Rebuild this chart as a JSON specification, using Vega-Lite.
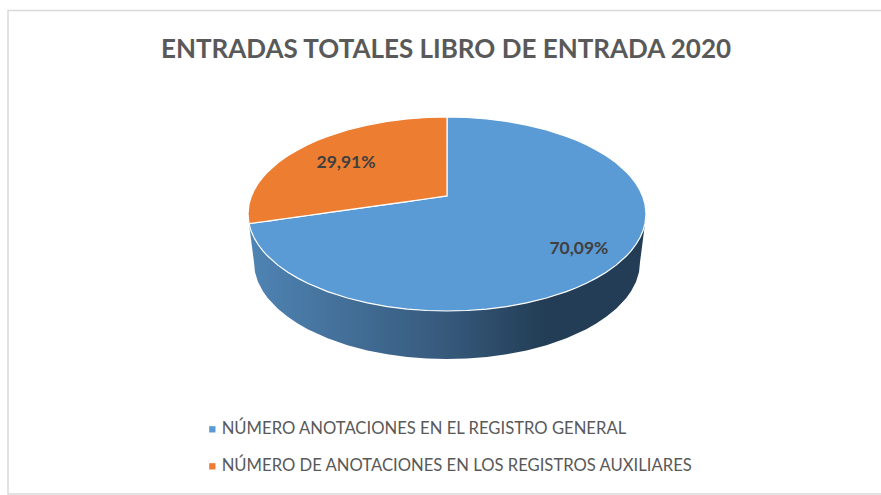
{"$schema":"https://vega.github.io/schema/vega-lite/v6.json","width":881,"height":495,"padding":0,"autosize":"none","background":"white","view":{"stroke":null},
"title":{"text":"ENTRADAS TOTALES LIBRO DE ENTRADA 2020","font":"Lato","fontSize":26,"fontWeight":"bold","color":"#595959","anchor":"middle","frame":"group","dx":5.5,"dy":63,"offset":0},
"config":{"axis":{"disable":true}},
"datasets":{
"marco":[{"i":0,"x":2.181,"y":2.098},{"i":1,"x":-2.206,"y":2.098},{"i":2,"x":-2.206,"y":-2.887},{"i":3,"x":2.181,"y":-2.887}],
"lateral":[
{"x":-0.995,"y":-0.1,"y2":-0.1},{"x":-0.985,"y":-0.173,"y2":-0.258},{"x":-0.97,"y":-0.243,"y2":-0.495},{"x":-0.965,"y":-0.262,"y2":-0.597},{"x":-0.95,"y":-0.312,"y2":-0.698},{"x":-0.925,"y":-0.38,"y2":-0.796},{"x":-0.9,"y":-0.436,"y2":-0.868},{"x":-0.85,"y":-0.527,"y2":-0.977},{"x":-0.8,"y":-0.6,"y2":-1.06},{"x":-0.75,"y":-0.661,"y2":-1.129},{"x":-0.7,"y":-0.714,"y2":-1.187},{"x":-0.6,"y":-0.8,"y2":-1.281},{"x":-0.5,"y":-0.866,"y2":-1.352},{"x":-0.4,"y":-0.917,"y2":-1.406},{"x":-0.3,"y":-0.954,"y2":-1.446},{"x":-0.2,"y":-0.98,"y2":-1.474},{"x":-0.1,"y":-0.995,"y2":-1.49},{"x":0,"y":-1,"y2":-1.495},{"x":0.1,"y":-0.995,"y2":-1.49},{"x":0.2,"y":-0.98,"y2":-1.474},{"x":0.3,"y":-0.954,"y2":-1.446},{"x":0.4,"y":-0.917,"y2":-1.406},{"x":0.5,"y":-0.866,"y2":-1.352},{"x":0.6,"y":-0.8,"y2":-1.281},{"x":0.7,"y":-0.714,"y2":-1.187},{"x":0.75,"y":-0.661,"y2":-1.129},{"x":0.8,"y":-0.6,"y2":-1.06},{"x":0.85,"y":-0.527,"y2":-0.977},{"x":0.9,"y":-0.436,"y2":-0.868},{"x":0.925,"y":-0.38,"y2":-0.796},{"x":0.95,"y":-0.312,"y2":-0.698},{"x":0.965,"y":-0.262,"y2":-0.597},{"x":0.97,"y":-0.243,"y2":-0.495},{"x":0.985,"y":-0.173,"y2":-0.258},{"x":0.995,"y":-0.1,"y2":-0.1}],
"sectores":[
{"c":"NÚMERO ANOTACIONES EN EL REGISTRO GENERAL","x":-0.995,"y":-0.1,"y2":-0.1},{"c":"NÚMERO ANOTACIONES EN EL REGISTRO GENERAL","x":-0.985,"y":-0.097,"y2":-0.173},{"c":"NÚMERO ANOTACIONES EN EL REGISTRO GENERAL","x":-0.97,"y":-0.0928,"y2":-0.243},{"c":"NÚMERO ANOTACIONES EN EL REGISTRO GENERAL","x":-0.95,"y":-0.087,"y2":-0.312},{"c":"NÚMERO ANOTACIONES EN EL REGISTRO GENERAL","x":-0.925,"y":-0.0798,"y2":-0.38},{"c":"NÚMERO ANOTACIONES EN EL REGISTRO GENERAL","x":-0.9,"y":-0.0727,"y2":-0.436},{"c":"NÚMERO ANOTACIONES EN EL REGISTRO GENERAL","x":-0.85,"y":-0.0583,"y2":-0.527},{"c":"NÚMERO ANOTACIONES EN EL REGISTRO GENERAL","x":-0.8,"y":-0.044,"y2":-0.6},{"c":"NÚMERO ANOTACIONES EN EL REGISTRO GENERAL","x":-0.75,"y":-0.0296,"y2":-0.661},{"c":"NÚMERO ANOTACIONES EN EL REGISTRO GENERAL","x":-0.7,"y":-0.0152,"y2":-0.714},{"c":"NÚMERO ANOTACIONES EN EL REGISTRO GENERAL","x":-0.6,"y":0.0136,"y2":-0.8},{"c":"NÚMERO ANOTACIONES EN EL REGISTRO GENERAL","x":-0.5,"y":0.0423,"y2":-0.866},{"c":"NÚMERO ANOTACIONES EN EL REGISTRO GENERAL","x":-0.4,"y":0.071,"y2":-0.917},{"c":"NÚMERO ANOTACIONES EN EL REGISTRO GENERAL","x":-0.3,"y":0.0998,"y2":-0.954},{"c":"NÚMERO ANOTACIONES EN EL REGISTRO GENERAL","x":-0.2,"y":0.1285,"y2":-0.98},{"c":"NÚMERO ANOTACIONES EN EL REGISTRO GENERAL","x":-0.1,"y":0.1573,"y2":-0.995},{"c":"NÚMERO ANOTACIONES EN EL REGISTRO GENERAL","x":-0.001,"y":0.186,"y2":-1},
{"c":"NÚMERO ANOTACIONES EN EL REGISTRO GENERAL","x":0,"y":1,"y2":-1},{"c":"NÚMERO ANOTACIONES EN EL REGISTRO GENERAL","x":0.1,"y":0.995,"y2":-0.995},{"c":"NÚMERO ANOTACIONES EN EL REGISTRO GENERAL","x":0.2,"y":0.98,"y2":-0.98},{"c":"NÚMERO ANOTACIONES EN EL REGISTRO GENERAL","x":0.3,"y":0.954,"y2":-0.954},{"c":"NÚMERO ANOTACIONES EN EL REGISTRO GENERAL","x":0.4,"y":0.917,"y2":-0.917},{"c":"NÚMERO ANOTACIONES EN EL REGISTRO GENERAL","x":0.5,"y":0.866,"y2":-0.866},{"c":"NÚMERO ANOTACIONES EN EL REGISTRO GENERAL","x":0.6,"y":0.8,"y2":-0.8},{"c":"NÚMERO ANOTACIONES EN EL REGISTRO GENERAL","x":0.65,"y":0.76,"y2":-0.76},{"c":"NÚMERO ANOTACIONES EN EL REGISTRO GENERAL","x":0.7,"y":0.714,"y2":-0.714},{"c":"NÚMERO ANOTACIONES EN EL REGISTRO GENERAL","x":0.75,"y":0.661,"y2":-0.661},{"c":"NÚMERO ANOTACIONES EN EL REGISTRO GENERAL","x":0.8,"y":0.6,"y2":-0.6},{"c":"NÚMERO ANOTACIONES EN EL REGISTRO GENERAL","x":0.85,"y":0.527,"y2":-0.527},{"c":"NÚMERO ANOTACIONES EN EL REGISTRO GENERAL","x":0.9,"y":0.436,"y2":-0.436},{"c":"NÚMERO ANOTACIONES EN EL REGISTRO GENERAL","x":0.925,"y":0.38,"y2":-0.38},{"c":"NÚMERO ANOTACIONES EN EL REGISTRO GENERAL","x":0.95,"y":0.312,"y2":-0.312},{"c":"NÚMERO ANOTACIONES EN EL REGISTRO GENERAL","x":0.97,"y":0.243,"y2":-0.243},{"c":"NÚMERO ANOTACIONES EN EL REGISTRO GENERAL","x":0.985,"y":0.173,"y2":-0.173},{"c":"NÚMERO ANOTACIONES EN EL REGISTRO GENERAL","x":0.995,"y":0.1,"y2":-0.1},{"c":"NÚMERO ANOTACIONES EN EL REGISTRO GENERAL","x":1,"y":0,"y2":0},
{"c":"NÚMERO DE ANOTACIONES EN LOS REGISTROS AUXILIARES","x":-1,"y":0,"y2":0},{"c":"NÚMERO DE ANOTACIONES EN LOS REGISTROS AUXILIARES","x":-0.995,"y":0.1,"y2":-0.1},{"c":"NÚMERO DE ANOTACIONES EN LOS REGISTROS AUXILIARES","x":-0.985,"y":0.173,"y2":-0.097},{"c":"NÚMERO DE ANOTACIONES EN LOS REGISTROS AUXILIARES","x":-0.97,"y":0.243,"y2":-0.0928},{"c":"NÚMERO DE ANOTACIONES EN LOS REGISTROS AUXILIARES","x":-0.95,"y":0.312,"y2":-0.087},{"c":"NÚMERO DE ANOTACIONES EN LOS REGISTROS AUXILIARES","x":-0.925,"y":0.38,"y2":-0.0798},{"c":"NÚMERO DE ANOTACIONES EN LOS REGISTROS AUXILIARES","x":-0.9,"y":0.436,"y2":-0.0727},{"c":"NÚMERO DE ANOTACIONES EN LOS REGISTROS AUXILIARES","x":-0.85,"y":0.527,"y2":-0.0583},{"c":"NÚMERO DE ANOTACIONES EN LOS REGISTROS AUXILIARES","x":-0.8,"y":0.6,"y2":-0.044},{"c":"NÚMERO DE ANOTACIONES EN LOS REGISTROS AUXILIARES","x":-0.75,"y":0.661,"y2":-0.0296},{"c":"NÚMERO DE ANOTACIONES EN LOS REGISTROS AUXILIARES","x":-0.7,"y":0.714,"y2":-0.0152},{"c":"NÚMERO DE ANOTACIONES EN LOS REGISTROS AUXILIARES","x":-0.65,"y":0.76,"y2":-0.0008},{"c":"NÚMERO DE ANOTACIONES EN LOS REGISTROS AUXILIARES","x":-0.6,"y":0.8,"y2":0.0136},{"c":"NÚMERO DE ANOTACIONES EN LOS REGISTROS AUXILIARES","x":-0.5,"y":0.866,"y2":0.0423},{"c":"NÚMERO DE ANOTACIONES EN LOS REGISTROS AUXILIARES","x":-0.4,"y":0.917,"y2":0.071},{"c":"NÚMERO DE ANOTACIONES EN LOS REGISTROS AUXILIARES","x":-0.3,"y":0.954,"y2":0.0998},{"c":"NÚMERO DE ANOTACIONES EN LOS REGISTROS AUXILIARES","x":-0.2,"y":0.98,"y2":0.1285},{"c":"NÚMERO DE ANOTACIONES EN LOS REGISTROS AUXILIARES","x":-0.1,"y":0.995,"y2":0.1573},{"c":"NÚMERO DE ANOTACIONES EN LOS REGISTROS AUXILIARES","x":0,"y":1,"y2":0.186}],
"etiquetas":[{"t":"70,09%","x":0.663,"y":-0.36},{"t":"29,91%","x":-0.5075,"y":0.526}]
},
"layer":[
{"data":{"name":"marco"},"mark":{"type":"line","color":"#d9d9d9","strokeWidth":1.5},"encoding":{"x":{"field":"x","type":"quantitative","scale":{"domain":[-2.2462,2.1809],"nice":false,"zero":false},"axis":null},"y":{"field":"y","type":"quantitative","scale":{"domain":[-2.8969,2.2062],"nice":false,"zero":false},"axis":null},"order":{"field":"i"}}},
{"data":{"name":"lateral"},"mark":{"type":"area","color":{"gradient":"linear","x1":0,"x2":1,"y1":0,"y2":0,"stops":[{"offset":0,"color":"#4f84b4"},{"offset":0.5,"color":"#36597b"},{"offset":0.75,"color":"#223d55"},{"offset":1,"color":"#223d55"}]}},"encoding":{"x":{"field":"x","type":"quantitative"},"y":{"field":"y","type":"quantitative"},"y2":{"field":"y2"}}},
{"data":{"name":"sectores"},"mark":{"type":"area","stroke":"white","strokeWidth":1.2},"encoding":{"x":{"field":"x","type":"quantitative"},"y":{"field":"y","type":"quantitative"},"y2":{"field":"y2"},"color":{"field":"c","type":"nominal","title":null,"scale":{"domain":["NÚMERO ANOTACIONES EN EL REGISTRO GENERAL","NÚMERO DE ANOTACIONES EN LOS REGISTROS AUXILIARES"],"range":["#5b9bd5","#ed7d31"]},"legend":{"orient":"none","legendX":204,"legendY":421,"symbolType":"square","symbolSize":40,"symbolStrokeWidth":0,"labelFont":"Lato","labelFontSize":16.65,"labelColor":"#595959","labelLimit":600,"rowPadding":20,"labelOffset":1}}}},
{"data":{"name":"etiquetas"},"mark":{"type":"text","font":"Lato","fontSize":17.5,"fontWeight":"bold","color":"#404040"},"encoding":{"x":{"field":"x","type":"quantitative"},"y":{"field":"y","type":"quantitative"},"text":{"field":"t"}}}
]}
